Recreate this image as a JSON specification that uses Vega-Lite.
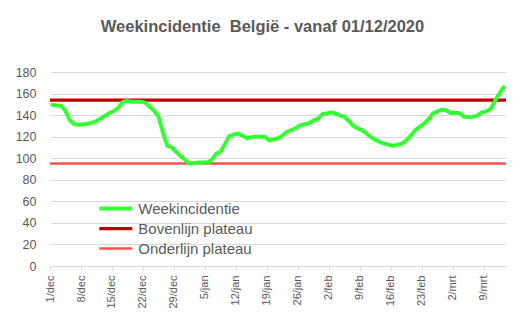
{
  "$schema": "https://vega.github.io/schema/vega-lite/v6.json",
  "width": 456,
  "height": 194,
  "autosize": {"type": "none"},
  "padding": {"left": 50, "top": 72, "right": 18, "bottom": 66},
  "background": "white",
  "title": {
    "text": "Weekincidentie \u00a0België - vanaf 01/12/2020",
    "font": "Liberation Sans",
    "fontSize": 16.5,
    "fontWeight": "bold",
    "color": "#595959",
    "anchor": "middle",
    "frame": "group",
    "dx": -15.5,
    "offset": 31
  },
  "config": {
    "view": {"stroke": null},
    "font": "Liberation Sans"
  },
  "encoding": {
    "y": {
      "field": "value",
      "type": "quantitative",
      "scale": {"domain": [0, 180], "nice": false},
      "axis": {
        "title": null,
        "values": [0, 20, 40, 60, 80, 100, 120, 140, 160, 180],
        "tickCount": 10,
        "labelFontSize": 12.5,
        "labelColor": "#595959",
        "labelPadding": 14,
        "labelOverlap": false,
        "labelFlush": false,
        "domain": false,
        "ticks": false,
        "gridColor": "#D9D9D9",
        "gridWidth": 1
      }
    },
    "color": {
      "field": "series",
      "type": "nominal",
      "scale": {
        "domain": ["Weekincidentie", "Bovenlijn plateau", "Onderlijn plateau"],
        "range": ["#33FF33", "#C00000", "#FF4F4F"]
      },
      "legend": {
        "title": null,
        "orient": "none",
        "legendX": 58.3,
        "legendY": 129,
        "symbolType": "M-3.3,0H3.3",
        "symbolSize": 100,
        "labelFontSize": 15,
        "labelColor": "#595959",
        "labelOffset": 15,
        "rowPadding": 4,
        "padding": 0
      }
    },
    "strokeWidth": {
      "field": "series",
      "type": "nominal",
      "scale": {
        "domain": ["Weekincidentie", "Bovenlijn plateau", "Onderlijn plateau"],
        "range": [4, 2.5, 2]
      },
      "legend": {
        "title": null,
        "orient": "none",
        "legendX": 58.3,
        "legendY": 129,
        "symbolType": "M-3.3,0H3.3",
        "symbolSize": 100,
        "labelFontSize": 15,
        "labelColor": "#595959",
        "labelOffset": 15,
        "rowPadding": 4,
        "padding": 0
      }
    }
  },
  "layer": [
    {
      "data": {"values": [
        {"series": "Bovenlijn plateau", "value": 154},
        {"series": "Onderlijn plateau", "value": 95}
      ]},
      "mark": {"type": "rule"}
    },
    {
      "data": {"values": [
        {"date": "2020-12-01", "series": "Weekincidentie", "value": 149.5},
        {"date": "2020-12-02", "series": "Weekincidentie", "value": 149},
        {"date": "2020-12-03", "series": "Weekincidentie", "value": 148.7},
        {"date": "2020-12-04", "series": "Weekincidentie", "value": 144},
        {"date": "2020-12-05", "series": "Weekincidentie", "value": 135},
        {"date": "2020-12-06", "series": "Weekincidentie", "value": 131.5},
        {"date": "2020-12-07", "series": "Weekincidentie", "value": 131},
        {"date": "2020-12-08", "series": "Weekincidentie", "value": 131.5},
        {"date": "2020-12-09", "series": "Weekincidentie", "value": 132},
        {"date": "2020-12-10", "series": "Weekincidentie", "value": 133},
        {"date": "2020-12-11", "series": "Weekincidentie", "value": 134.5},
        {"date": "2020-12-12", "series": "Weekincidentie", "value": 137},
        {"date": "2020-12-13", "series": "Weekincidentie", "value": 139.5},
        {"date": "2020-12-14", "series": "Weekincidentie", "value": 142},
        {"date": "2020-12-15", "series": "Weekincidentie", "value": 144},
        {"date": "2020-12-16", "series": "Weekincidentie", "value": 147},
        {"date": "2020-12-17", "series": "Weekincidentie", "value": 152.5},
        {"date": "2020-12-18", "series": "Weekincidentie", "value": 153},
        {"date": "2020-12-19", "series": "Weekincidentie", "value": 152.5},
        {"date": "2020-12-20", "series": "Weekincidentie", "value": 152.5},
        {"date": "2020-12-21", "series": "Weekincidentie", "value": 152.5},
        {"date": "2020-12-22", "series": "Weekincidentie", "value": 151.5},
        {"date": "2020-12-23", "series": "Weekincidentie", "value": 148},
        {"date": "2020-12-24", "series": "Weekincidentie", "value": 144},
        {"date": "2020-12-25", "series": "Weekincidentie", "value": 139},
        {"date": "2020-12-26", "series": "Weekincidentie", "value": 124},
        {"date": "2020-12-27", "series": "Weekincidentie", "value": 111.5},
        {"date": "2020-12-28", "series": "Weekincidentie", "value": 110},
        {"date": "2020-12-29", "series": "Weekincidentie", "value": 106},
        {"date": "2020-12-30", "series": "Weekincidentie", "value": 102},
        {"date": "2020-12-31", "series": "Weekincidentie", "value": 98.5},
        {"date": "2021-01-01", "series": "Weekincidentie", "value": 95},
        {"date": "2021-01-02", "series": "Weekincidentie", "value": 95.5},
        {"date": "2021-01-03", "series": "Weekincidentie", "value": 96},
        {"date": "2021-01-04", "series": "Weekincidentie", "value": 96},
        {"date": "2021-01-05", "series": "Weekincidentie", "value": 96},
        {"date": "2021-01-06", "series": "Weekincidentie", "value": 98.5},
        {"date": "2021-01-07", "series": "Weekincidentie", "value": 104},
        {"date": "2021-01-08", "series": "Weekincidentie", "value": 106},
        {"date": "2021-01-09", "series": "Weekincidentie", "value": 113},
        {"date": "2021-01-10", "series": "Weekincidentie", "value": 120.5},
        {"date": "2021-01-11", "series": "Weekincidentie", "value": 122},
        {"date": "2021-01-12", "series": "Weekincidentie", "value": 123},
        {"date": "2021-01-13", "series": "Weekincidentie", "value": 121},
        {"date": "2021-01-14", "series": "Weekincidentie", "value": 118.5},
        {"date": "2021-01-15", "series": "Weekincidentie", "value": 119.5},
        {"date": "2021-01-16", "series": "Weekincidentie", "value": 120},
        {"date": "2021-01-17", "series": "Weekincidentie", "value": 120},
        {"date": "2021-01-18", "series": "Weekincidentie", "value": 120},
        {"date": "2021-01-19", "series": "Weekincidentie", "value": 116.5},
        {"date": "2021-01-20", "series": "Weekincidentie", "value": 117.5},
        {"date": "2021-01-21", "series": "Weekincidentie", "value": 118.5},
        {"date": "2021-01-22", "series": "Weekincidentie", "value": 121},
        {"date": "2021-01-23", "series": "Weekincidentie", "value": 124.5},
        {"date": "2021-01-24", "series": "Weekincidentie", "value": 126},
        {"date": "2021-01-25", "series": "Weekincidentie", "value": 128},
        {"date": "2021-01-26", "series": "Weekincidentie", "value": 130.5},
        {"date": "2021-01-27", "series": "Weekincidentie", "value": 131.5},
        {"date": "2021-01-28", "series": "Weekincidentie", "value": 132.5},
        {"date": "2021-01-29", "series": "Weekincidentie", "value": 135},
        {"date": "2021-01-30", "series": "Weekincidentie", "value": 136.5},
        {"date": "2021-01-31", "series": "Weekincidentie", "value": 141},
        {"date": "2021-02-01", "series": "Weekincidentie", "value": 141.5},
        {"date": "2021-02-02", "series": "Weekincidentie", "value": 142.5},
        {"date": "2021-02-03", "series": "Weekincidentie", "value": 141.5},
        {"date": "2021-02-04", "series": "Weekincidentie", "value": 139.5},
        {"date": "2021-02-05", "series": "Weekincidentie", "value": 138.5},
        {"date": "2021-02-06", "series": "Weekincidentie", "value": 134.5},
        {"date": "2021-02-07", "series": "Weekincidentie", "value": 130},
        {"date": "2021-02-08", "series": "Weekincidentie", "value": 127.5},
        {"date": "2021-02-09", "series": "Weekincidentie", "value": 126},
        {"date": "2021-02-10", "series": "Weekincidentie", "value": 123},
        {"date": "2021-02-11", "series": "Weekincidentie", "value": 119.5},
        {"date": "2021-02-12", "series": "Weekincidentie", "value": 117},
        {"date": "2021-02-13", "series": "Weekincidentie", "value": 115},
        {"date": "2021-02-14", "series": "Weekincidentie", "value": 113.5},
        {"date": "2021-02-15", "series": "Weekincidentie", "value": 112.5},
        {"date": "2021-02-16", "series": "Weekincidentie", "value": 111.5},
        {"date": "2021-02-17", "series": "Weekincidentie", "value": 112.5},
        {"date": "2021-02-18", "series": "Weekincidentie", "value": 113.5},
        {"date": "2021-02-19", "series": "Weekincidentie", "value": 116.5},
        {"date": "2021-02-20", "series": "Weekincidentie", "value": 121},
        {"date": "2021-02-21", "series": "Weekincidentie", "value": 126},
        {"date": "2021-02-22", "series": "Weekincidentie", "value": 129},
        {"date": "2021-02-23", "series": "Weekincidentie", "value": 132},
        {"date": "2021-02-24", "series": "Weekincidentie", "value": 136},
        {"date": "2021-02-25", "series": "Weekincidentie", "value": 141.5},
        {"date": "2021-02-26", "series": "Weekincidentie", "value": 143.5},
        {"date": "2021-02-27", "series": "Weekincidentie", "value": 145},
        {"date": "2021-02-28", "series": "Weekincidentie", "value": 144.5},
        {"date": "2021-03-01", "series": "Weekincidentie", "value": 142},
        {"date": "2021-03-02", "series": "Weekincidentie", "value": 142},
        {"date": "2021-03-03", "series": "Weekincidentie", "value": 142},
        {"date": "2021-03-04", "series": "Weekincidentie", "value": 138.5},
        {"date": "2021-03-05", "series": "Weekincidentie", "value": 138.2},
        {"date": "2021-03-06", "series": "Weekincidentie", "value": 138.5},
        {"date": "2021-03-07", "series": "Weekincidentie", "value": 139.5},
        {"date": "2021-03-08", "series": "Weekincidentie", "value": 142.5},
        {"date": "2021-03-09", "series": "Weekincidentie", "value": 143.5},
        {"date": "2021-03-10", "series": "Weekincidentie", "value": 145.5},
        {"date": "2021-03-11", "series": "Weekincidentie", "value": 153},
        {"date": "2021-03-12", "series": "Weekincidentie", "value": 160},
        {"date": "2021-03-13", "series": "Weekincidentie", "value": 166}
      ]},
      "mark": {"type": "line", "strokeJoin": "round", "strokeCap": "round"},
      "encoding": {
        "x": {
          "field": "date",
          "type": "temporal",
          "scale": {
            "type": "utc",
            "domain": [
              {"year": 2020, "month": 11, "date": 30, "hours": 12, "utc": true},
              {"year": 2021, "month": 3, "date": 13, "hours": 12, "utc": true}
            ]
          },
          "axis": {
            "title": null,
            "values": [
              {"year": 2020, "month": 12, "date": 1, "utc": true},
              {"year": 2020, "month": 12, "date": 8, "utc": true},
              {"year": 2020, "month": 12, "date": 15, "utc": true},
              {"year": 2020, "month": 12, "date": 22, "utc": true},
              {"year": 2020, "month": 12, "date": 29, "utc": true},
              {"year": 2021, "month": 1, "date": 5, "utc": true},
              {"year": 2021, "month": 1, "date": 12, "utc": true},
              {"year": 2021, "month": 1, "date": 19, "utc": true},
              {"year": 2021, "month": 1, "date": 26, "utc": true},
              {"year": 2021, "month": 2, "date": 2, "utc": true},
              {"year": 2021, "month": 2, "date": 9, "utc": true},
              {"year": 2021, "month": 2, "date": 16, "utc": true},
              {"year": 2021, "month": 2, "date": 23, "utc": true},
              {"year": 2021, "month": 3, "date": 2, "utc": true},
              {"year": 2021, "month": 3, "date": 9, "utc": true}
            ],
            "labelExpr": "utcdate(datum.value) + '/' + ['jan','feb','mrt','apr','mei','jun','jul','aug','sep','okt','nov','dec'][utcmonth(datum.value)]",
            "labelAngle": 270,
            "labelFontSize": 11,
            "labelColor": "#595959",
            "labelPadding": 5,
            "labelFlush": false,
            "labelOverlap": false,
            "grid": false,
            "domainColor": "#D9D9D9",
            "tickColor": "#D9D9D9",
            "tickSize": 4,
            "tickOffset": -2.2
          }
        }
      }
    }
  ]
}
